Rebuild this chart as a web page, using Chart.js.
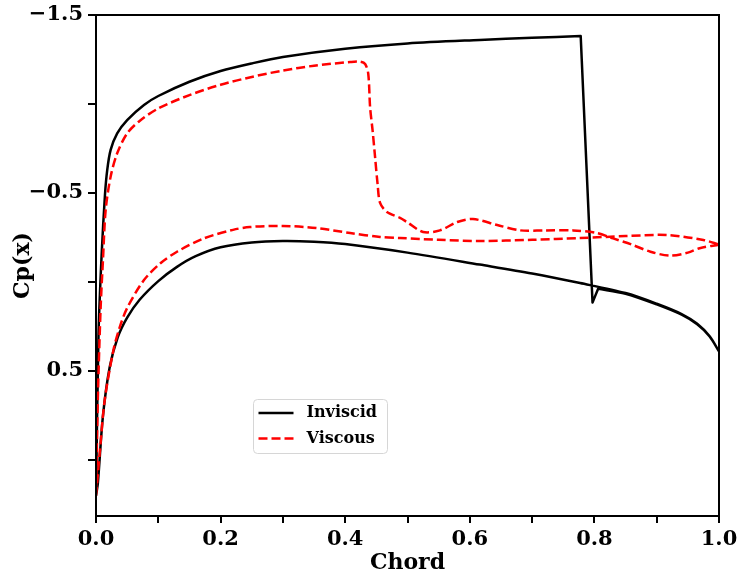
<!DOCTYPE html>
<html>
<head>
<meta charset="utf-8">
<script src="https://cdn.jsdelivr.net/npm/chart.js@4.4.1/dist/chart.umd.min.js"></script>
<style>
  body { margin: 0; background: #fff; }
  #wrap { width: 739px; height: 577px; }
</style>
</head>
<body>
<div id="wrap"><canvas id="cpChart" width="739" height="577"></canvas></div>
<script>
// tick positions
const chordTicks = [0, 0.1, 0.2, 0.3, 0.4, 0.5, 0.6, 0.7, 0.8, 0.9, 1.0]
const chordLabelled = [0, 0.2, 0.4, 0.6, 0.8, 1.0]
const cpTicks = [-1.5, -1.0, -0.5, 0, 0.5, 1.0]
const cpLabelled = [-1.5, -0.5, 0.5]

// Inviscid, upper surface (LE -> TE); shock corners are repeated so the spline keeps them sharp
const invUpperChord = [0, 0.004, 0.009, 0.0144, 0.018, 0.0235, 0.034, 0.05, 0.077, 0.1, 0.15, 0.2, 0.25, 0.3, 0.4, 0.5, 0.616, 0.7, 0.778, 0.778, 0.797, 0.797, 0.806, 0.806, 0.85, 0.9, 0.94, 0.965, 0.985, 1.0]
const invUpperCp = [1.2, 0.3, -0.15, -0.49, -0.629, -0.742, -0.835, -0.91, -0.995, -1.045, -1.125, -1.185, -1.228, -1.264, -1.31, -1.34, -1.36, -1.372, -1.382, -1.382, 0.115, 0.115, 0.038, 0.038, 0.066, 0.126, 0.184, 0.238, 0.306, 0.39]

// Inviscid, lower surface (LE -> TE)
const invLowerChord = [0, 0.003, 0.011, 0.022, 0.035, 0.05, 0.07, 0.1, 0.13, 0.16, 0.2, 0.25, 0.3, 0.35, 0.4, 0.5, 0.616, 0.7, 0.777, 0.85, 0.9, 0.94, 0.965, 0.985, 1.0]
const invLowerCp = [1.2, 1.13, 0.758, 0.478, 0.31, 0.2, 0.1, -0.005, -0.085, -0.145, -0.195, -0.222, -0.23, -0.226, -0.213, -0.165, -0.098, -0.048, 0.006, 0.062, 0.122, 0.18, 0.235, 0.305, 0.39]

// Viscous, upper surface (LE -> TE)
const visUpperChord = [0, 0.003, 0.0075, 0.0112, 0.0155, 0.0235, 0.034, 0.05, 0.07, 0.1, 0.15, 0.2, 0.25, 0.3, 0.35, 0.408, 0.424, 0.432, 0.437, 0.44, 0.444, 0.448, 0.452, 0.456, 0.467, 0.488, 0.499, 0.525, 0.552, 0.58, 0.605, 0.644, 0.681, 0.72, 0.766, 0.804, 0.83, 0.86, 0.89, 0.921, 0.95, 0.969, 1.0]
const visUpperCp = [1.2, 0.65, 0.139, -0.124, -0.404, -0.592, -0.723, -0.835, -0.905, -0.975, -1.05, -1.108, -1.152, -1.188, -1.215, -1.236, -1.238, -1.225, -1.17, -0.98, -0.85, -0.70, -0.55, -0.444, -0.393, -0.36, -0.337, -0.281, -0.29, -0.337, -0.354, -0.32, -0.29, -0.29, -0.29, -0.275, -0.245, -0.21, -0.17, -0.148, -0.165, -0.19, -0.21]

// Viscous, lower surface (LE -> TE)
const visLowerChord = [0, 0.0064, 0.014, 0.028, 0.038, 0.05, 0.077, 0.104, 0.13, 0.173, 0.22, 0.247, 0.30, 0.354, 0.408, 0.456, 0.488, 0.55, 0.616, 0.70, 0.777, 0.85, 0.916, 0.975, 1.0]
const visLowerCp = [1.2, 0.944, 0.663, 0.382, 0.255, 0.146, -0.011, -0.107, -0.17, -0.245, -0.293, -0.309, -0.315, -0.303, -0.275, -0.253, -0.247, -0.237, -0.23, -0.237, -0.247, -0.258, -0.264, -0.236, -0.21]

// go round the airfoil: TE upper -> LE -> TE lower
function loop(upX, upY, loX, loY) {
  const pts = []
  for (let i = upX.length - 1; i >= 0; i--) pts.push({ x: upX[i], y: upY[i] })
  for (let i = 0; i < loX.length; i++) pts.push({ x: loX[i], y: loY[i] })
  return pts
}

const FONT = "'DejaVu Serif', 'Liberation Serif', serif"

const frameBox = {
  id: 'frameBox',
  afterDatasetsDraw(chart) {
    const { ctx, chartArea: a } = chart
    ctx.save()
    ctx.strokeStyle = '#000'
    ctx.lineWidth = 2
    ctx.strokeRect(a.left, a.top, a.right - a.left, a.bottom - a.top)
    ctx.restore()
  }
}

const legendBox = {
  id: 'legendBox',
  afterDraw(chart) {
    const { ctx, chartArea: a } = chart
    const x0 = a.left + 157.5, y0 = a.top + 384.5
    ctx.save()
    ctx.beginPath()
    ctx.roundRect(x0, y0, 134, 54, 4)
    ctx.fillStyle = 'rgba(255,255,255,0.8)'
    ctx.fill()
    ctx.strokeStyle = '#d6d6d6'
    ctx.lineWidth = 1
    ctx.stroke()
    chart.data.datasets.forEach((ds, i) => {
      const y = y0 + 13.5 + i * 25.5
      ctx.beginPath()
      ctx.setLineDash(ds.borderDash || [])
      ctx.strokeStyle = ds.borderColor
      ctx.lineWidth = ds.borderWidth
      ctx.moveTo(x0 + 5, y)
      ctx.lineTo(x0 + 40, y)
      ctx.stroke()
      ctx.setLineDash([])
      ctx.fillStyle = '#000'
      ctx.font = "bold 16px " + FONT
      ctx.textBaseline = 'middle'
      ctx.fillText(ds.label, x0 + 53, y)
    })
    ctx.restore()
  }
}

function noPad(s) {
  s.paddingTop = 0
  s.paddingBottom = 0
  s.paddingLeft = 0
  s.paddingRight = 0
}

new Chart(document.getElementById('cpChart').getContext('2d'), {
  type: 'line',
  data: {
    datasets: [
      {
        label: 'Inviscid',
        data: loop(invUpperChord, invUpperCp, invLowerChord, invLowerCp),
        borderColor: '#000',
        borderWidth: 2.5,
        order: 1
      },
      {
        label: 'Viscous',
        data: loop(visUpperChord, visUpperCp, visLowerChord, visLowerCp),
        borderColor: '#ff0000',
        borderWidth: 2.5,
        borderDash: [9, 4],
        order: 0
      }
    ]
  },
  options: {
    responsive: false,
    animation: false,
    layout: { padding: { top: 15, right: 20, left: 0, bottom: 0 } },
    elements: { point: { radius: 0 }, line: { tension: 0.3, fill: false, borderJoinStyle: 'round' } },
    plugins: { legend: { display: false }, tooltip: { enabled: false } },
    scales: {
      x: {
        type: 'linear',
        min: 0,
        max: 1,
        afterFit: (s) => { s.height = 61; noPad(s) },
        afterBuildTicks: (s) => { s.ticks = chordTicks.map(v => ({ value: v })) },
        border: { display: false },
        grid: { drawOnChartArea: false, color: '#000', lineWidth: 2, tickLength: 7 },
        ticks: {
          autoSkip: false,
          maxRotation: 0,
          padding: 4,
          color: '#000',
          font: { family: FONT, size: 21, weight: 'bold' },
          callback: (v) => chordLabelled.some(c => Math.abs(c - v) < 1e-6) ? v.toFixed(1) : ''
        },
        title: {
          display: true,
          text: 'Chord',
          color: '#000',
          padding: { top: 0, bottom: 1 },
          font: { family: FONT, size: 22, weight: 'bold' }
        }
      },
      y: {
        type: 'linear',
        reverse: true,
        min: -1.5,
        max: 1.3146,
        afterFit: (s) => { s.width = 96; noPad(s) },
        afterBuildTicks: (s) => { s.ticks = cpTicks.map(v => ({ value: v })) },
        border: { display: false },
        grid: { drawOnChartArea: false, color: '#000', lineWidth: 2, tickLength: 8 },
        ticks: {
          autoSkip: false,
          padding: 5,
          color: '#000',
          font: { family: FONT, size: 21, weight: 'bold' },
          callback: (v) => cpLabelled.some(c => Math.abs(c - v) < 1e-6) ? v.toFixed(1).replace('-', '\u2212') : ''
        },
        title: {
          display: true,
          text: 'Cp(x)',
          color: '#000',
          padding: { top: 10, bottom: 0 },
          font: { family: FONT, size: 22, weight: 'bold' }
        }
      }
    }
  },
  plugins: [frameBox, legendBox]
});
</script>
</body>
</html>
